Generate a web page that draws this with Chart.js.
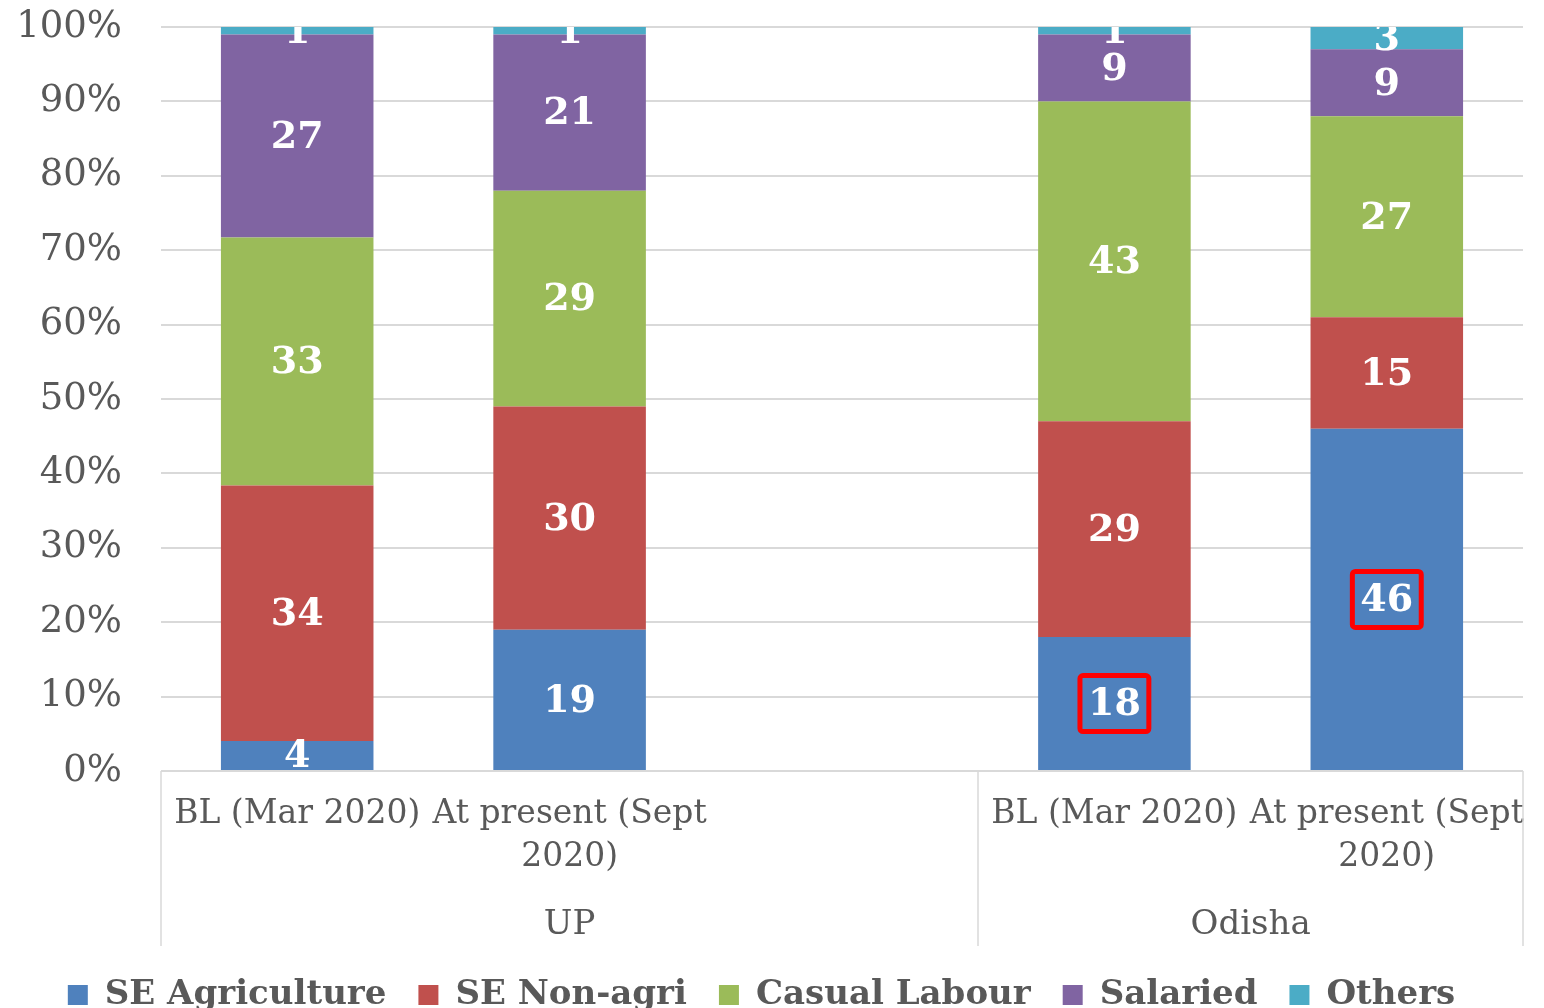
<!DOCTYPE html>
<html>
<head>
<meta charset="utf-8">
<script src="https://cdn.jsdelivr.net/npm/chart.js@4/dist/chart.umd.min.js"></script>
<style>
  html, body { margin: 0; padding: 0; background: #fff; overflow: hidden; }
  #wrap { position: relative; width: 1544px; height: 1022px; }
</style>
</head>
<body>
<div id="wrap"><canvas id="chart"></canvas></div>
<script>
// Categories (third slot is the empty spacer between the two states)
const categories = ['BL (Mar 2020)', ['At present (Sept', '2020)'], '', 'BL (Mar 2020)', ['At present (Sept', '2020)']];
const groupLabels = ['UP', 'Odisha'];
const groupSpans = [[0, 2], [3, 4]];

// Share of workers (%) per occupation
const seAgri    = [4, 19, null, 18, 46];
const seNonAgri = [34, 30, null, 29, 15];
const casual    = [33, 29, null, 43, 27];
const salaried  = [27, 21, null, 9, 9];
const others    = [1, 1, null, 1, 3];

const seriesNames = ['SE Agriculture', 'SE Non-agri', 'Casual Labour', 'Salaried', 'Others'];
const seriesColors = ['#4F81BD', '#C0504D', '#9BBB59', '#8064A2', '#4BACC6'];

// labels boxed in red on the original
const highlighted = [{ ds: 0, idx: 3 }, { ds: 0, idx: 4 }];

const yTicks = [0, 10, 20, 30, 40, 50, 60, 70, 80, 90, 100];

const FONT = '"DejaVu Serif", serif';
const GREY = '#595959';
const GRID = '#d9d9d9';

const raw = [seAgri, seNonAgri, casual, salaried, others];
const totals = categories.map((_, i) => raw.reduce((s, arr) => s + (arr[i] || 0), 0));
const pct = arr => arr.map((v, i) => (v == null ? null : (v / totals[i]) * 100));

const datasets = raw.map((arr, k) => ({
  label: seriesNames[k],
  data: pct(arr),
  rawValues: arr,
  backgroundColor: seriesColors[k],
  borderWidth: 0,
  barPercentage: 0.56,
  categoryPercentage: 1,
}));

/** White value labels in the middle of each segment, clipped to plot area */
const segmentLabels = {
  id: 'segmentLabels',
  afterDatasetsDraw(chart) {
    const { ctx, chartArea } = chart;
    ctx.save();
    ctx.beginPath();
    ctx.rect(chartArea.left, chartArea.top, chartArea.right - chartArea.left, chartArea.bottom - chartArea.top);
    ctx.clip();
    ctx.font = 'bold 38px ' + FONT;
    ctx.fillStyle = '#ffffff';
    ctx.textAlign = 'center';
    ctx.textBaseline = 'middle';
    chart.data.datasets.forEach((ds, di) => {
      chart.getDatasetMeta(di).data.forEach((bar, i) => {
        const v = ds.rawValues[i];
        if (v == null) return;
        const y = (bar.y + bar.base) / 2;
        ctx.fillText(String(v), bar.x, y + 2);
      });
    });
    ctx.restore();

    // red highlight boxes
    ctx.save();
    ctx.font = 'bold 38px ' + FONT;
    ctx.strokeStyle = '#FF0000';
    ctx.lineWidth = 5;
    highlighted.forEach(h => {
      const bar = chart.getDatasetMeta(h.ds).data[h.idx];
      const txt = String(chart.data.datasets[h.ds].rawValues[h.idx]);
      const w = ctx.measureText(txt).width + 16;
      const hgt = 56;
      const cy = (bar.y + bar.base) / 2;
      ctx.beginPath();
      ctx.roundRect(bar.x - w / 2, cy - hgt / 2, w, hgt, 3);
      ctx.stroke();
    });
    ctx.restore();
  },
};

/** Second x-axis level: state names and separators */
const groupAxis = {
  id: 'groupAxis',
  afterDraw(chart) {
    const { ctx, chartArea, scales } = chart;
    const x = scales.x;
    const slot = x.getPixelForValue(1) - x.getPixelForValue(0);
    const bottom = x.bottom;
    ctx.save();
    ctx.strokeStyle = GRID;
    ctx.lineWidth = 1.5;
    const edges = [];
    groupSpans.forEach(([a, b]) => {
      edges.push(x.getPixelForValue(a) - slot / 2);
      edges.push(x.getPixelForValue(b) + slot / 2);
    });
    [...new Set(edges.map(e => Math.round(e)))].forEach(ex => {
      ctx.beginPath();
      ctx.moveTo(ex, chartArea.bottom);
      ctx.lineTo(ex, bottom);
      ctx.stroke();
    });
    ctx.font = '34px ' + FONT;
    ctx.fillStyle = GREY;
    ctx.textAlign = 'center';
    ctx.textBaseline = 'middle';
    groupSpans.forEach(([a, b], g) => {
      const cx = (x.getPixelForValue(a) - slot / 2 + x.getPixelForValue(b) + slot / 2) / 2;
      ctx.fillText(groupLabels[g], cx, bottom - 21);
    });
    ctx.restore();
  },
};

new Chart(document.getElementById('chart'), {
  type: 'bar',
  data: { labels: categories, datasets },
  options: {
    responsive: true,
    maintainAspectRatio: false,
    animation: false,
    layout: { padding: { top: 27, right: 21, left: 0, bottom: 0 } },
    plugins: {
      tooltip: { enabled: false },
      legend: {
        position: 'bottom',
        labels: {
          color: GREY,
          font: { family: FONT, size: 34, weight: 'bold' },
          boxWidth: 20,
          boxHeight: 20,
          padding: 32,
        },
      },
    },
    scales: {
      x: {
        stacked: true,
        grid: { display: false, drawTicks: false },
        border: { display: false },
        ticks: {
          color: GREY,
          font: { family: FONT, size: 33, lineHeight: 1.3 },
          padding: 22,
          autoSkip: false,
          maxRotation: 0,
          minRotation: 0,
        },
        afterFit(scale) {
          scale.height = 175;
          scale.paddingLeft = 0;
          scale.paddingRight = 0;
        },
      },
      y: {
        stacked: true,
        min: 0,
        max: 100,
        afterBuildTicks(scale) { scale.ticks = yTicks.map(v => ({ value: v })); },
        grid: { color: GRID, lineWidth: 2, drawTicks: false },
        border: { display: false },
        ticks: {
          color: GREY,
          font: { family: FONT, size: 37 },
          padding: 39,
          callback: v => v + '%',
        },
        afterFit(scale) {
          scale.width = 161;
          scale.paddingTop = 0;
          scale.paddingBottom = 0;
        },
      },
    },
  },
  plugins: [segmentLabels, groupAxis],
});
</script>
</body>
</html>
